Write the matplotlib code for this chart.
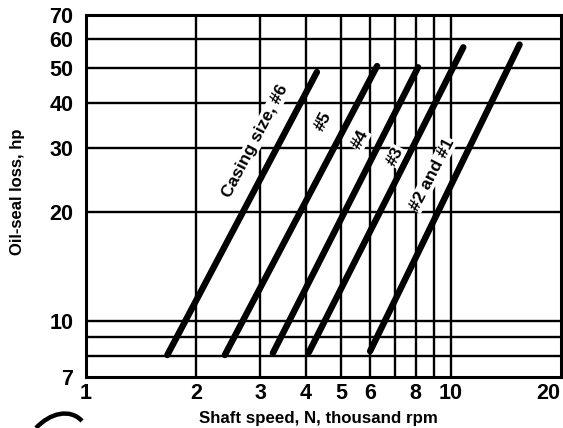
import matplotlib
matplotlib.use("Agg")
import matplotlib.pyplot as plt
from matplotlib.path import Path
from matplotlib.patches import PathPatch
from matplotlib.ticker import FixedLocator, FixedFormatter, NullLocator
from matplotlib.transforms import ScaledTranslation

plt.rcParams['font.family'] = ['Liberation Sans', 'DejaVu Sans']
plt.rcParams['font.weight'] = 'bold'

# Oil-seal loss lines per casing size: (speed, loss) at each end
casing_labels = ["Casing size, #6", "#5", "#4", "#3", "#2 and #1"]
speed_low = [1.67, 2.40, 3.25, 4.08, 6.00]
speed_high = [4.29, 6.27, 8.12, 10.8, 15.4]
loss_low = [8.05, 8.05, 8.15, 8.2, 8.25]
loss_high = [48.7, 50.6, 50.2, 57.0, 58.0]

# label anchor positions (speed, loss)
label_x = [2.90, 4.46, 5.63, 7.02, 8.87]
label_y = [31.3, 35.6, 31.7, 28.5, 25.4]

x_ticks = [1, 2, 3, 4, 5, 6, 8, 10, 20]
y_ticks = [7, 10, 20, 30, 40, 50, 60, 70]
x_grid = [2, 3, 4, 5, 6, 7, 8, 9, 10]
y_grid = [8, 9, 10, 20, 30, 40, 50, 60]

W, H = 563, 428
fig = plt.figure(figsize=(W / 100, H / 100), dpi=100)
ax = fig.add_axes([86 / W, 51 / H, 475 / W, 362 / H])
ax.set_xscale('log')
ax.set_yscale('log')
ax.set_xlim(1, 20)
ax.set_ylim(7, 70)

for gx in x_grid:
    ax.axvline(gx, color='black', lw=1.7, zorder=1)
for gy in y_grid:
    ax.axhline(gy, color='black', lw=1.7, zorder=1)

for x0, x1, y0, y1 in zip(speed_low, speed_high, loss_low, loss_high):
    ax.plot([x0, x1], [y0, y1], color='black', lw=4.6,
            solid_capstyle='round', zorder=3)

for txt, lx, ly in zip(casing_labels, label_x, label_y):
    ax.text(lx, ly, txt, rotation=62.5, rotation_mode='anchor',
            ha='center', va='center', fontsize=12.5, fontweight='bold',
            zorder=4, bbox=dict(facecolor='white', edgecolor='none', pad=0.5))

ax.xaxis.set_major_locator(FixedLocator(x_ticks))
ax.xaxis.set_major_formatter(FixedFormatter([str(v) for v in x_ticks]))
ax.xaxis.set_minor_locator(NullLocator())
ax.yaxis.set_major_locator(FixedLocator(y_ticks))
ax.yaxis.set_major_formatter(FixedFormatter([str(v) for v in y_ticks]))
ax.yaxis.set_minor_locator(NullLocator())
ax.tick_params(axis='x', length=0, labelsize=15.5, pad=4)
ax.tick_params(axis='y', length=0, labelsize=15.5, pad=9)
for lab in ax.get_xticklabels() + ax.get_yticklabels():
    lab.set_fontweight('bold')
# keep the last x label inside the figure
last = ax.get_xticklabels()[-1]
last.set_transform(last.get_transform() + ScaledTranslation(-13 / 100, 0, fig.dpi_scale_trans))

for sp in ax.spines.values():
    sp.set_linewidth(2.2)

fig.text(318 / W, 1 - 418 / H, "Shaft speed, N, thousand rpm", fontsize=12.2,
         fontweight='bold', ha='center', va='center')
fig.text(18 / W, 1 - 192 / H, "Oil-seal loss, hp", fontsize=12, rotation=90,
         fontweight='bold', ha='center', va='center')

# decorative swoosh in the lower-left corner
verts = [(36 / W, 0 / H), (50 / W, 15 / H), (70 / W, 20 / H), (82 / W, 7 / H)]
codes = [Path.MOVETO, Path.CURVE4, Path.CURVE4, Path.CURVE4]
fig.add_artist(PathPatch(Path(verts, codes), transform=fig.transFigure,
                         facecolor='none', edgecolor='black', lw=3.2))

fig.savefig("out.png", dpi=100)
